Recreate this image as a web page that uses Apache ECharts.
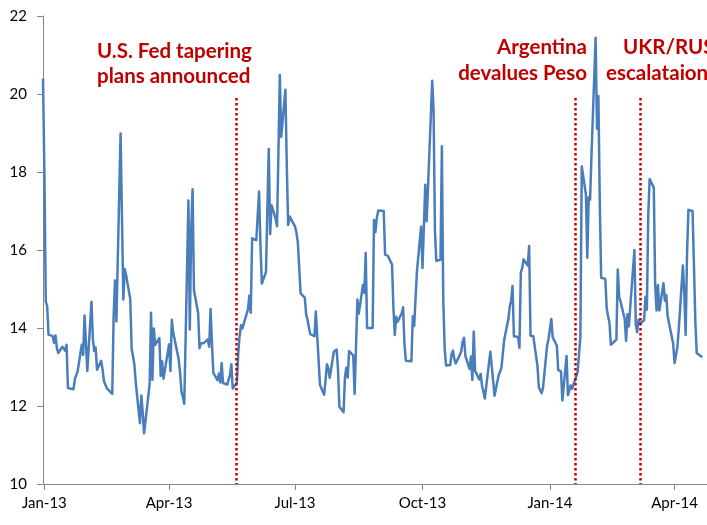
<!DOCTYPE html>
<html><head><meta charset="utf-8">
<script src="https://cdn.jsdelivr.net/npm/echarts@6/dist/echarts.min.js"></script>
<style>html,body{margin:0;padding:0;background:#fff}#c{width:707px;height:525px}</style>
</head><body><div id="c"></div>
<script>
// ---- data: daily closes ----
const dates2013Q1 = ['2012-12-31','2013-01-01','2013-01-02','2013-01-03','2013-01-04','2013-01-07','2013-01-08','2013-01-09','2013-01-10','2013-01-11','2013-01-14','2013-01-15','2013-01-16','2013-01-17','2013-01-18','2013-01-22','2013-01-23','2013-01-24','2013-01-25','2013-01-28','2013-01-29','2013-01-30','2013-01-31',
'2013-02-01','2013-02-04','2013-02-05','2013-02-06','2013-02-07','2013-02-08','2013-02-11','2013-02-12','2013-02-13','2013-02-14','2013-02-15','2013-02-19','2013-02-20','2013-02-21','2013-02-22','2013-02-25','2013-02-26','2013-02-27','2013-02-28',
'2013-03-01','2013-03-04','2013-03-05','2013-03-06','2013-03-07','2013-03-08','2013-03-11','2013-03-12','2013-03-13','2013-03-14','2013-03-15','2013-03-18','2013-03-19','2013-03-20','2013-03-21','2013-03-22','2013-03-25','2013-03-26','2013-03-27','2013-03-28'];
const vix2013Q1 = [20.4,18.0,14.68,14.56,13.83,13.79,13.62,13.81,13.49,13.36,13.52,13.55,13.42,13.57,12.46,12.43,12.69,12.69,12.89,13.57,13.31,14.32,14.28,
12.90,14.67,13.72,13.41,13.50,12.93,13.16,12.94,12.64,12.66,12.46,12.31,14.29,15.22,14.17,18.99,16.87,14.73,15.51,
15.36,14.74,13.48,13.53,13.06,12.59,11.56,12.27,11.83,11.30,11.30,12.56,14.39,12.67,13.99,13.57,13.74,12.77,13.15,12.70];

const dates2013Q2 = ['2013-04-01','2013-04-02','2013-04-03','2013-04-04','2013-04-05','2013-04-08','2013-04-09','2013-04-10','2013-04-11','2013-04-12','2013-04-15','2013-04-16','2013-04-17','2013-04-18','2013-04-19','2013-04-22','2013-04-23','2013-04-24','2013-04-25','2013-04-26','2013-04-29','2013-04-30',
'2013-05-01','2013-05-02','2013-05-03','2013-05-06','2013-05-07','2013-05-08','2013-05-09','2013-05-10','2013-05-13','2013-05-14','2013-05-15','2013-05-16','2013-05-17','2013-05-20','2013-05-21','2013-05-22','2013-05-23','2013-05-24','2013-05-28','2013-05-29','2013-05-30','2013-05-31',
'2013-06-03','2013-06-04','2013-06-05','2013-06-06','2013-06-07','2013-06-10','2013-06-11','2013-06-12','2013-06-13','2013-06-14','2013-06-17','2013-06-18','2013-06-19','2013-06-20','2013-06-21','2013-06-24','2013-06-25','2013-06-26','2013-06-27','2013-06-28'];
const vix2013Q2 = [13.58,12.90,14.21,13.89,13.92,13.19,12.84,12.36,12.24,12.06,17.27,13.96,16.51,17.56,14.97,14.39,13.48,13.61,13.62,13.61,13.71,13.52,
14.49,13.59,12.85,12.66,12.83,12.60,13.10,12.59,12.55,12.50,12.80,13.07,12.45,12.60,13.37,13.82,14.07,13.99,14.48,14.83,14.39,16.30,
16.25,16.27,17.50,16.14,15.14,15.44,17.07,18.59,16.41,17.15,16.80,16.61,16.64,20.49,18.90,20.11,18.21,16.64,16.86,16.86];

const dates2013Q3 = ['2013-07-01','2013-07-02','2013-07-03','2013-07-05','2013-07-08','2013-07-09','2013-07-10','2013-07-11','2013-07-12','2013-07-15','2013-07-16','2013-07-17','2013-07-18','2013-07-19','2013-07-22','2013-07-23','2013-07-24','2013-07-25','2013-07-26','2013-07-29','2013-07-30','2013-07-31',
'2013-08-01','2013-08-02','2013-08-05','2013-08-06','2013-08-07','2013-08-08','2013-08-09','2013-08-12','2013-08-13','2013-08-14','2013-08-15','2013-08-16','2013-08-19','2013-08-20','2013-08-21','2013-08-22','2013-08-23','2013-08-26','2013-08-27','2013-08-28','2013-08-29','2013-08-30',
'2013-09-03','2013-09-04','2013-09-05','2013-09-06','2013-09-09','2013-09-10','2013-09-11','2013-09-12','2013-09-13','2013-09-16','2013-09-17','2013-09-18','2013-09-19','2013-09-20','2013-09-23','2013-09-24','2013-09-25','2013-09-26','2013-09-27','2013-09-30'];
const vix2013Q3 = [16.60,16.44,16.20,14.89,14.78,14.35,14.21,14.01,13.84,13.79,14.42,13.78,13.77,12.54,12.29,12.66,13.07,12.97,12.72,13.39,13.39,13.45,
12.94,11.98,11.84,12.72,12.98,12.73,13.41,13.30,12.31,12.31,14.73,14.37,15.10,14.90,15.92,14.00,13.98,14.00,16.77,16.46,16.81,17.01,
17.00,15.88,15.88,15.85,15.63,14.53,13.82,14.29,14.16,14.38,14.53,13.59,13.16,13.12,13.15,14.30,14.05,14.00,15.46,16.60];

const dates2013Q4 = ['2013-10-01','2013-10-02','2013-10-03','2013-10-04','2013-10-07','2013-10-08','2013-10-09','2013-10-10','2013-10-11','2013-10-14','2013-10-15','2013-10-16','2013-10-17','2013-10-18','2013-10-21','2013-10-22','2013-10-23','2013-10-24','2013-10-25','2013-10-28','2013-10-29','2013-10-30','2013-10-31',
'2013-11-01','2013-11-04','2013-11-05','2013-11-06','2013-11-07','2013-11-08','2013-11-11','2013-11-12','2013-11-13','2013-11-14','2013-11-15','2013-11-18','2013-11-19','2013-11-20','2013-11-21','2013-11-22','2013-11-25','2013-11-26','2013-11-27','2013-11-29',
'2013-12-02','2013-12-03','2013-12-04','2013-12-05','2013-12-06','2013-12-09','2013-12-10','2013-12-11','2013-12-12','2013-12-13','2013-12-16','2013-12-17','2013-12-18','2013-12-19','2013-12-20','2013-12-23','2013-12-24','2013-12-26','2013-12-27','2013-12-30','2013-12-31'];
const vix2013Q4 = [15.54,16.60,17.67,16.74,19.41,20.34,19.60,16.48,15.72,15.75,18.66,14.71,13.48,13.04,13.05,13.33,13.42,13.20,13.09,13.31,13.41,13.65,13.75,
13.28,12.95,13.27,12.67,13.91,12.90,12.68,12.82,12.52,12.37,12.19,13.10,13.39,13.40,12.66,12.26,12.79,12.81,12.98,13.70,
14.23,14.55,14.70,15.08,13.79,13.77,13.49,15.42,15.54,15.76,15.60,16.10,13.80,13.79,13.79,13.03,12.48,12.33,12.46,13.56,13.72];

const dates2014 = ['2014-01-02','2014-01-03','2014-01-06','2014-01-07','2014-01-08','2014-01-09','2014-01-10','2014-01-13','2014-01-14','2014-01-15','2014-01-16','2014-01-17','2014-01-21','2014-01-22','2014-01-23','2014-01-24','2014-01-27','2014-01-28','2014-01-29','2014-01-30','2014-01-31',
'2014-02-03','2014-02-04','2014-02-05','2014-02-06','2014-02-07','2014-02-10','2014-02-11','2014-02-12','2014-02-13','2014-02-14','2014-02-18','2014-02-19','2014-02-20','2014-02-21','2014-02-24','2014-02-25','2014-02-26','2014-02-27','2014-02-28',
'2014-03-03','2014-03-04','2014-03-05','2014-03-06','2014-03-07','2014-03-10','2014-03-11','2014-03-12','2014-03-13','2014-03-14','2014-03-17','2014-03-18','2014-03-19','2014-03-20','2014-03-21','2014-03-24','2014-03-25','2014-03-26','2014-03-27','2014-03-28','2014-03-31',
'2014-04-01','2014-04-02','2014-04-03','2014-04-04','2014-04-07','2014-04-08','2014-04-09','2014-04-10','2014-04-11','2014-04-14','2014-04-15','2014-04-16','2014-04-17','2014-04-21'];
const vix2014 = [14.23,13.76,13.55,12.92,12.87,12.89,12.14,13.28,12.28,12.28,12.53,12.44,12.87,12.84,13.77,18.14,17.42,15.80,17.35,17.29,18.41,
21.44,19.11,19.95,17.23,15.29,15.26,14.51,14.30,14.14,13.57,13.70,15.50,14.79,14.68,14.23,13.67,14.35,14.04,14.00,
16.00,14.10,13.89,14.21,14.11,14.20,14.80,14.47,16.90,17.82,17.60,15.10,14.45,15.10,14.45,15.15,14.70,14.85,14.30,14.30,13.60,
13.10,13.09,13.50,13.96,15.60,14.90,13.82,15.89,17.03,17.00,15.61,14.18,13.36,13.25];

// axis & annotations
const axisStart = '2012-12-31T00:00:00Z';
const axisEnd = '2014-04-24T10:05:00Z';
const tickDates = ['2013-01-01','2013-04-01','2013-07-01','2013-10-01','2014-01-01','2014-04-01'];
const tickLabels = ['Jan-13','Apr-13','Jul-13','Oct-13','Jan-14','Apr-14'];
const yMin = 10, yMax = 22, yStep = 2;
const eventDates = ['2013-05-19T08:00:00Z','2014-01-19T14:00:00Z','2014-03-07T14:00:00Z'];
const eventTop = 19.9;
const noteFed = ['U.S. Fed tapering','plans announced'];
const noteArg = ['Argentina','devalues Peso'];
const noteUkr = ['UKR/RUS','escalataion'];

const allDates = [].concat(dates2013Q1, dates2013Q2, dates2013Q3, dates2013Q4, dates2014);
const allVals = [].concat(vix2013Q1, vix2013Q2, vix2013Q3, vix2013Q4, vix2014);
const seriesData = allDates.map((d, i) => [Date.parse(d.length === 10 ? d + 'T00:00:00Z' : d), allVals[i]]);
const tickVals = tickDates.map(d => Date.parse(d + 'T00:00:00Z'));

const red = '#C00000';
const noteFont = 'bold 20.5px Lato';
function noteText(text, x, y, align) {
  return { type: 'text', silent: true, z: 10, x: x, y: y,
    style: { text: text, textAlign: align, textVerticalAlign: 'middle', font: noteFont, fill: red } };
}

const chart = echarts.init(document.getElementById('c'), null, { renderer: 'canvas' });
chart.setOption({
  animation: false,
  backgroundColor: '#fff',
  grid: { left: 43, right: 0, top: 16, bottom: 41, containLabel: false, outerBoundsMode: 'none' },
  xAxis: {
    type: 'value',
    min: Date.parse(axisStart), max: Date.parse(axisEnd),
    axisLine: { show: true, onZero: false, lineStyle: { color: '#868686', width: 1 } },
    axisTick: { show: true, inside: false, length: 6, customValues: tickVals, lineStyle: { color: '#868686' } },
    axisLabel: { show: true, margin: 12, customValues: tickVals, color: '#000', fontFamily: 'Lato', fontSize: 15,
      formatter: v => { const i = tickVals.indexOf(v); return i >= 0 ? tickLabels[i] : ''; } },
    splitLine: { show: false }
  },
  yAxis: {
    type: 'value', min: yMin, max: yMax, interval: yStep,
    axisLine: { show: true, lineStyle: { color: '#868686', width: 1 } },
    axisTick: { show: true, inside: false, length: 6, lineStyle: { color: '#868686' } },
    axisLabel: { margin: 16, color: '#000', fontFamily: 'Lato', fontSize: 15 },
    splitLine: { show: false }
  },
  series: [{
    type: 'line',
    data: seriesData,
    showSymbol: false,
    clip: true,
    lineStyle: { color: '#4A7EBB', width: 2.5, join: 'round' },
    itemStyle: { color: '#4A7EBB' },
    markLine: {
      silent: true, symbol: ['none', 'none'], label: { show: false },
      lineStyle: { color: red, width: 2.5, type: [2.5, 2.5] },
      data: eventDates.map(d => [{ coord: [Date.parse(d), eventTop] }, { coord: [Date.parse(d), yMin] }])
    }
  }],
  graphic: [
    noteText(noteFed[0], 97, 51, 'left'),
    noteText(noteFed[1], 97, 76, 'left'),
    noteText(noteArg[0], 587, 47.5, 'right'),
    noteText(noteArg[1], 587, 73.5, 'right'),
    noteText(noteUkr[0], 623, 47.5, 'left'),
    noteText(noteUkr[1], 606, 73.5, 'left')
  ]
});
</script></body></html>
